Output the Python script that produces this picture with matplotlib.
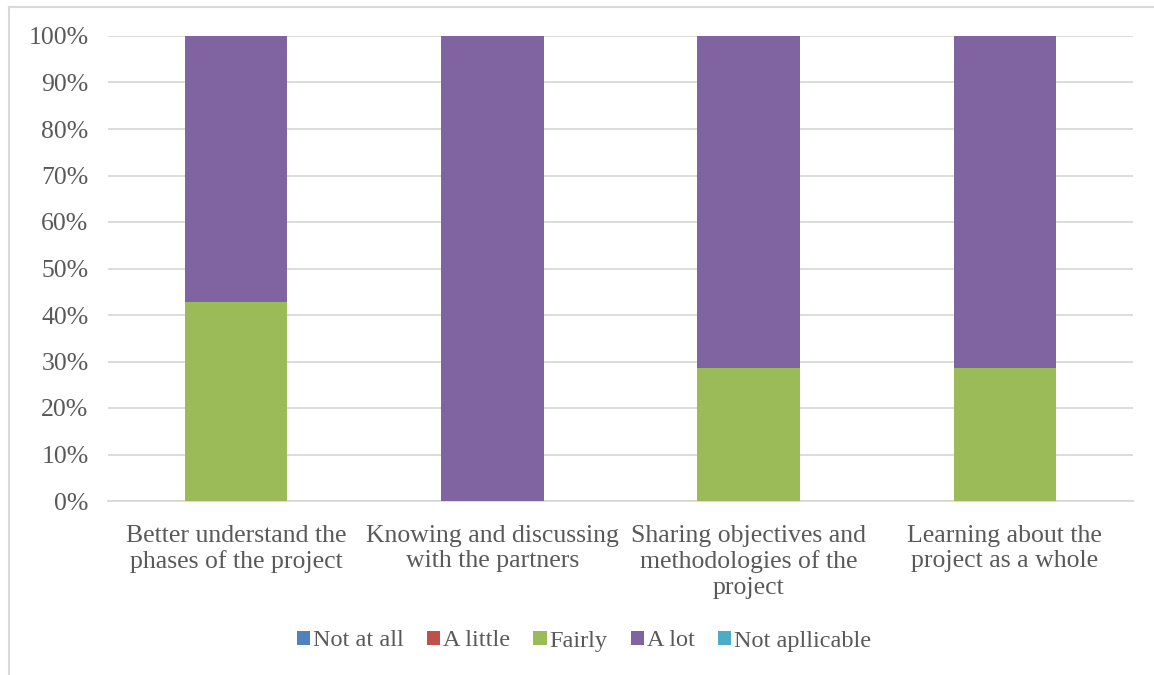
import matplotlib.pyplot as plt
from matplotlib.lines import Line2D
from matplotlib.ticker import PercentFormatter

categories = [
    "Better understand the\nphases of the project",
    "Knowing and discussing\nwith the partners",
    "Sharing objectives and\nmethodologies of the\nproject",
    "Learning about the\nproject as a whole",
]
series_names = ["Not at all", "A little", "Fairly", "A lot", "Not apllicable"]
not_at_all = [0, 0, 0, 0]
a_little = [0, 0, 0, 0]
fairly = [42.86, 0, 28.57, 28.57]
a_lot = [57.14, 100, 71.43, 71.43]
not_applicable = [0, 0, 0, 0]
colors = ["#4F81BD", "#C0504D", "#9BBB59", "#8064A2", "#4BACC6"]

text_color = "#595959"
plt.rcParams["font.family"] = ["Liberation Serif", "DejaVu Serif"]

fig = plt.figure(figsize=(11.54, 6.75), dpi=100)
ax = fig.add_axes([108 / 1154, 1 - 501 / 675, 1025 / 1154, 465 / 675])

x = range(len(categories))
bottom = [0] * len(categories)
handles = []
for name, vals, c in zip(series_names,
                         [not_at_all, a_little, fairly, a_lot, not_applicable],
                         colors):
    b = ax.bar(x, vals, width=0.4, bottom=bottom, color=c, label=name, zorder=3)
    handles.append(b)
    bottom = [bb + v for bb, v in zip(bottom, vals)]

ax.set_xlim(-0.5, 3.5)
ax.set_ylim(0, 100)
ax.set_yticks(range(0, 101, 10))
ax.yaxis.set_major_formatter(PercentFormatter(decimals=0))
ax.grid(axis="y", color="#D9D9D9", linewidth=1.3, zorder=0)
for s in ["top", "right", "left"]:
    ax.spines[s].set_visible(False)
ax.spines["bottom"].set_color("#D9D9D9")
ax.spines["bottom"].set_linewidth(1.3)
ax.set_xticks(list(x))
ax.set_xticklabels(categories, fontsize=18.5, color=text_color, linespacing=1.2)
ax.tick_params(axis="x", length=0, pad=17)
ax.tick_params(axis="y", length=0, pad=14, labelsize=18.5, labelcolor=text_color)

fig.legend(handles=handles, labels=series_names, loc="center",
           bbox_to_anchor=(584 / 1154, 1 - 641 / 675), ncol=5, frameon=False,
           fontsize=17.5, labelcolor=text_color, handlelength=0.55,
           handleheight=0.55, handletextpad=0.12, columnspacing=0.95)

# chart frame (top and left edges)
fig.add_artist(Line2D([9 / 1154, 1], [1 - 7 / 675, 1 - 7 / 675],
                      transform=fig.transFigure, color="#D9D9D9", linewidth=1.5))
fig.add_artist(Line2D([9 / 1154, 9 / 1154], [0, 1 - 7 / 675],
                      transform=fig.transFigure, color="#D9D9D9", linewidth=1.5))

fig.savefig("out.png", dpi=100)
